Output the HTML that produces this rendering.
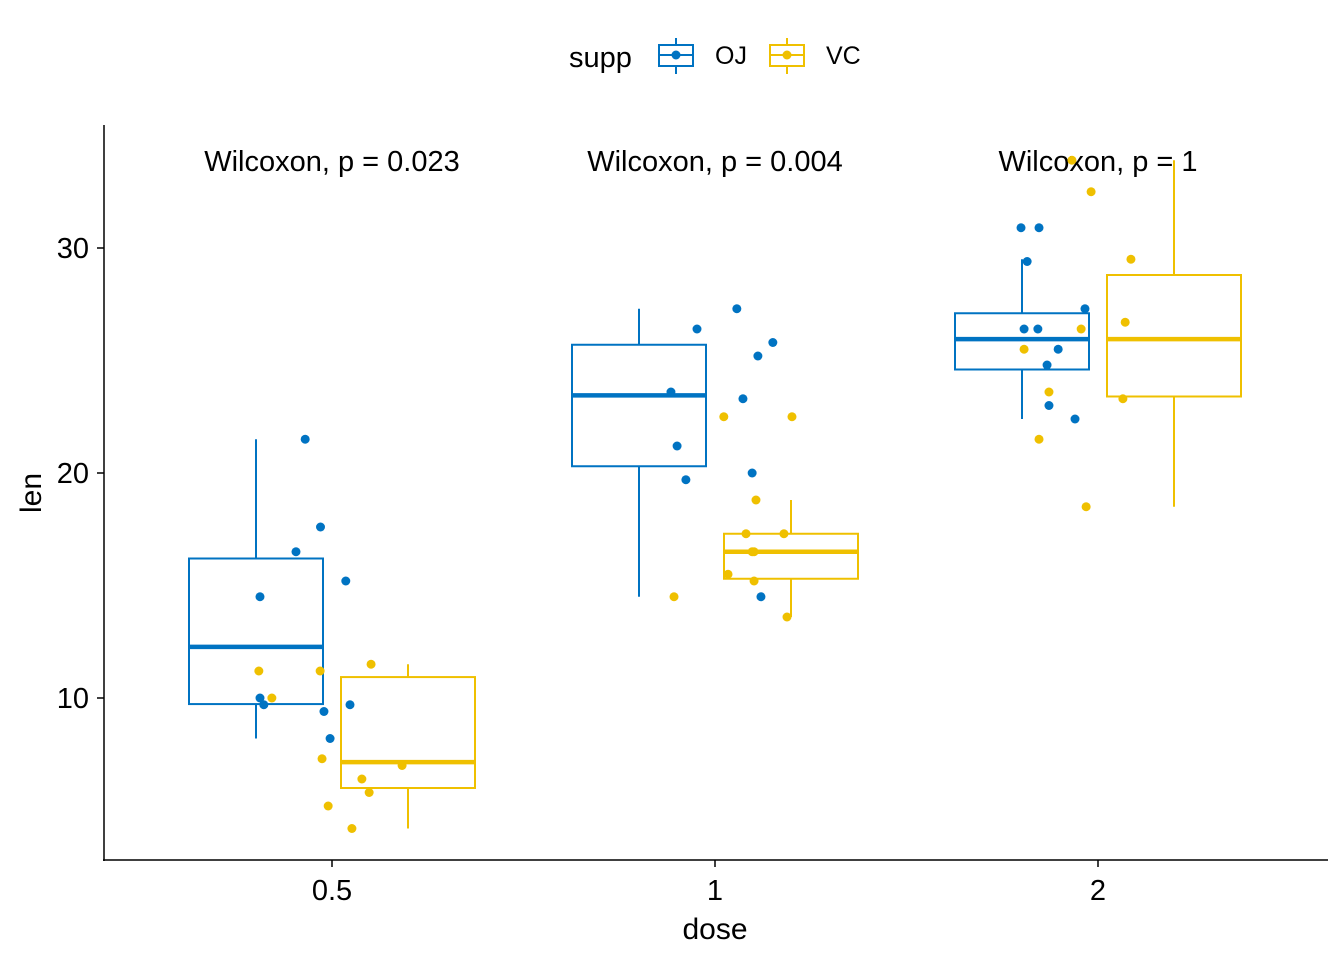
<!DOCTYPE html>
<html><head><meta charset="utf-8"><style>
body{margin:0;background:#fff}
svg text{font-family:"Liberation Sans",Arial,sans-serif}
</style></head><body>
<svg id="chart" width="1344" height="960" xmlns="http://www.w3.org/2000/svg">
<g id="legend">
<text x="569" y="67" font-size="29">supp</text>
<g>
<line x1="676" y1="38" x2="676" y2="74" stroke="#0073C2" stroke-width="2"/>
<rect x="659" y="45" width="34" height="21" fill="#fff" stroke="#0073C2" stroke-width="2"/>
<line x1="659" y1="55" x2="693" y2="55" stroke="#0073C2" stroke-width="2"/>
<circle cx="676" cy="55" r="4.5" fill="#0073C2"/>
<text x="715" y="64" font-size="25">OJ</text></g>
<g>
<line x1="787" y1="38" x2="787" y2="74" stroke="#EFC000" stroke-width="2"/>
<rect x="770" y="45" width="34" height="21" fill="#fff" stroke="#EFC000" stroke-width="2"/>
<line x1="770" y1="55" x2="804" y2="55" stroke="#EFC000" stroke-width="2"/>
<circle cx="787" cy="55" r="4.5" fill="#EFC000"/>
<text x="826" y="64" font-size="25">VC</text></g>
</g>
<g id="plot"></g>
</svg>
<script>
const doses=["0.5","1","2"];
const groups=["OJ","VC"];
const colors={OJ:"#0073C2",VC:"#EFC000"};
const pLabels=["Wilcoxon, p = 0.023","Wilcoxon, p = 0.004","Wilcoxon, p = 1"];
// [low, q1, median, q3, high] per dose
const ojBox=[[8.2,9.73,12.27,16.2,21.5],[14.5,20.3,23.45,25.7,27.3],[22.4,24.6,25.95,27.1,29.5]];
const vcBox=[[4.2,6.0,7.15,10.93,11.5],[13.6,15.3,16.5,17.3,18.8],[18.5,23.4,25.95,28.8,33.9]];
// points: [doseIndex, jitter (category units), value]
const ojPts=[[0,-0.07,21.5],[0,-0.03,17.6],[0,-0.094,16.5],[0,0.036,15.2],[0,-0.188,14.5],[0,-0.188,10],[0,-0.178,9.7],[0,0.047,9.7],[0,-0.021,9.4],[0,-0.005,8.2],
[1,0.057,27.3],[1,-0.047,26.4],[1,0.151,25.8],[1,0.112,25.2],[1,-0.115,23.6],[1,0.073,23.3],[1,-0.099,21.2],[1,0.097,20],[1,-0.076,19.7],[1,0.12,14.5],
[2,-0.201,30.9],[2,-0.154,30.9],[2,-0.185,29.4],[2,-0.034,27.3],[2,-0.193,26.4],[2,-0.157,26.4],[2,-0.104,25.5],[2,-0.133,24.8],[2,-0.128,23],[2,-0.06,22.4]];
const vcPts=[[0,0.102,11.5],[0,-0.191,11.2],[0,-0.031,11.2],[0,-0.157,10],[0,-0.026,7.3],[0,0.183,7.0],[0,0.078,6.4],[0,0.097,5.8],[0,-0.01,5.2],[0,0.052,4.2],
[1,0.023,22.5],[1,0.201,22.5],[1,0.107,18.8],[1,0.081,17.3],[1,0.18,17.3],[1,0.102,16.5],[1,0.097,16.5],[1,0.034,15.5],[1,0.102,15.2],[1,-0.107,14.5],[1,0.188,13.6],
[2,-0.068,33.9],[2,-0.018,32.5],[2,0.086,29.5],[2,0.071,26.7],[2,-0.044,26.4],[2,-0.193,25.5],[2,-0.128,23.6],[2,0.065,23.3],[2,-0.154,21.5],[2,-0.031,18.5]];
const yTicks=[10,20,30];

const NS="http://www.w3.org/2000/svg";
const plot=document.getElementById("plot");
const X0=104,X1=1328,Y0=860,YT=125;
const xScale=i=>332+i*383;
const yScale=v=>698-(v-10)*22.5;
const dodge=76,bw=134;
function mk(tag,attrs,parent){const e=document.createElementNS(NS,tag);for(const k in attrs)e.setAttribute(k,attrs[k]);(parent||plot).appendChild(e);return e;}

const ax=mk("line",{x1:X0,y1:YT,x2:X0,y2:Y0+1,stroke:"#000","stroke-width":1.5});


const axb=mk("line",{x1:X0-1,y1:Y0,x2:X1,y2:Y0,stroke:"#000","stroke-width":1.5});


yTicks.forEach(t=>{
  const y=yScale(t);
  const l=mk("line",{x1:X0-7,y1:y,x2:X0,y2:y,stroke:"#000","stroke-width":1.5});
  
  
  const tx=mk("text",{x:89,y:y+10,"font-size":29,"text-anchor":"end"});tx.textContent=t;
  
  
});
doses.forEach((d,i)=>{
  const x=xScale(i);
  const l=mk("line",{x1:x,y1:Y0,x2:x,y2:Y0+7,stroke:"#000","stroke-width":1.5});
  
  
  const tx=mk("text",{x:x,y:Y0+40,"font-size":29,"text-anchor":"middle"});tx.textContent=d;
  
  
  const p=mk("text",{x:x,y:171,"font-size":29,"text-anchor":"middle"});p.textContent=pLabels[i];
  
  
});
const xt=mk("text",{x:715,y:939,"font-size":30,"text-anchor":"middle"});xt.textContent="dose";


const yt=mk("text",{x:0,y:0,"font-size":30,"text-anchor":"middle",transform:"translate(41,493) rotate(-90)"});yt.textContent="len";



function drawBoxes(boxes,g,off){
  boxes.forEach((b,i)=>{
    const cx=xScale(i)+off,c=colors[g];
    const gr=mk("g",{});
    
    
    mk("line",{x1:cx,y1:yScale(b[0]),x2:cx,y2:yScale(b[1]),stroke:c,"stroke-width":2},gr);
    mk("line",{x1:cx,y1:yScale(b[3]),x2:cx,y2:yScale(b[4]),stroke:c,"stroke-width":2},gr);
    mk("rect",{x:cx-bw/2,y:yScale(b[3]),width:bw,height:yScale(b[1])-yScale(b[3]),fill:"#fff",stroke:c,"stroke-width":2},gr);
    mk("line",{x1:cx-bw/2,y1:yScale(b[2]),x2:cx+bw/2,y2:yScale(b[2]),stroke:c,"stroke-width":4.5},gr);
  });
}
function drawPts(pts,g){
  pts.forEach(p=>{
    const c=mk("circle",{cx:xScale(p[0])+p[1]*383,cy:yScale(p[2]),r:4.5,fill:colors[g]});
    
    
  });
}
drawBoxes(ojBox,"OJ",-dodge);
drawBoxes(vcBox,"VC",dodge);
drawPts(ojPts,"OJ");
drawPts(vcPts,"VC");
</script>
</body></html>
